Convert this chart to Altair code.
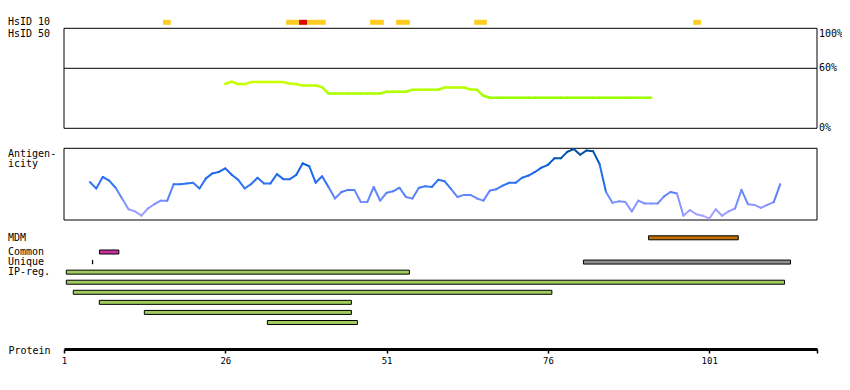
import altair as alt
import pandas as pd

FONT = "DejaVu Sans Mono"

# ---------------- data ----------------
axis_start = 1
axis_end = 117.7
tick_values = [1, 26, 51, 76, 101]

# HsID 10 track (residue spans)
hsid10_start = [16.35, 35.42, 37.43, 38.67, 48.44, 52.47, 64.57, 98.52]
hsid10_end = [17.54, 37.43, 38.67, 41.57, 50.57, 54.60, 66.53, 99.71]
hsid10_color = ["#ffcc22", "#ffcc22", "#dd0000", "#ffcc22", "#ffcc22", "#ffcc22", "#ffcc22", "#ffcc22"]

# HsID 50 identity (%)
hsid50_residue = list(range(26, 93))
hsid50_percent = [
    44.5, 46.5, 44.2, 44.2, 46.2, 46.2, 46.2, 46.2, 46.2, 46.2,   # 26-35
    44.5, 44.2, 42.8, 42.8, 42.8, 41.2, 34.8, 34.8, 34.8, 34.8,   # 36-45
    34.8, 34.8, 34.8, 34.8, 34.8, 36.5, 36.5, 36.5, 36.5, 38.5,   # 46-55
    38.5, 38.5, 38.5, 38.5, 40.8, 40.8, 40.8, 40.8, 38.8, 38.5,   # 56-65
    32.5, 30.5, 30.5, 30.5, 30.5, 30.5, 30.5, 30.5, 30.5, 30.5,   # 66-75
    30.5, 30.5, 30.5, 30.5, 30.5, 30.5, 30.5, 30.5, 30.5, 30.5,   # 76-85
    30.5, 30.5, 30.5, 30.5, 30.5, 30.5, 30.5,                     # 86-92
]

# Antigenicity (relative, 0-1)
antig_residue = list(range(5, 113))
antig_value = [
    0.53, 0.44, 0.60, 0.55, 0.45, 0.30, 0.15, 0.12, 0.06, 0.16,   # 5-14
    0.22, 0.27, 0.27, 0.50, 0.50, 0.51, 0.52, 0.44, 0.58, 0.65,   # 15-24
    0.67, 0.72, 0.63, 0.56, 0.44, 0.50, 0.59, 0.51, 0.51, 0.64,   # 25-34
    0.57, 0.57, 0.63, 0.79, 0.75, 0.52, 0.61, 0.46, 0.30, 0.39,   # 35-44
    0.42, 0.42, 0.25, 0.25, 0.46, 0.27, 0.38, 0.40, 0.45, 0.32,   # 45-54
    0.30, 0.45, 0.47, 0.46, 0.56, 0.54, 0.43, 0.32, 0.35, 0.35,   # 55-64
    0.30, 0.27, 0.41, 0.43, 0.48, 0.52, 0.52, 0.59, 0.62, 0.67,   # 65-74
    0.73, 0.77, 0.86, 0.86, 0.95, 0.99, 0.91, 0.97, 0.96, 0.78,   # 75-84
    0.39, 0.24, 0.26, 0.25, 0.12, 0.27, 0.23, 0.23, 0.23, 0.33,   # 85-94
    0.39, 0.37, 0.06, 0.14, 0.08, 0.06, 0.02, 0.15, 0.06, 0.12,   # 95-104
    0.16, 0.42, 0.22, 0.21, 0.17, 0.21, 0.25, 0.50,               # 105-112
]

# Feature tracks
feat_track = ["MDM", "Common", "Unique", "Unique", "IP-reg.", "IP-reg.", "IP-reg.", "IP-reg.", "IP-reg.", "IP-reg."]
feat_lane = [1, 2, 3, 3, 4, 5, 6, 7, 8, 9]
feat_start = [91.6, 6.5, 5.4, 81.5, 1.36, 1.36, 2.44, 6.47, 13.45, 32.52]
feat_end = [105.5, 9.5, 5.45, 113.6, 54.53, 112.67, 76.61, 45.54, 45.54, 46.47]
feat_color = ["#bf7000", "#c8319b", "#000000", "#909090",
              "#9fcb5f", "#9fcb5f", "#9fcb5f", "#9fcb5f", "#9fcb5f", "#9fcb5f"]

lane_labels = ["HsID 10", "MDM", "Common", "Unique", "IP-reg."]
lane_label_lane = [0, 1, 2, 3, 4]

# ---------------- tables ----------------
hsid10_df = pd.DataFrame({"start": hsid10_start, "end": hsid10_end, "color": hsid10_color,
                          "lane": [0] * len(hsid10_start)})

g = pd.DataFrame({"r": hsid50_residue, "p": hsid50_percent})
g["r2"] = g["r"].shift(-1)
g["p2"] = g["p"].shift(-1)
g = g.dropna()
g["pm"] = (g["p"] + g["p2"]) / 2

a = pd.DataFrame({"r": antig_residue, "v": antig_value})
a["r2"] = a["r"].shift(-1)
a["v2"] = a["v"].shift(-1)
a = a.dropna()
a["vm"] = (a["v"] + a["v2"]) / 2

feat_df = pd.DataFrame({"track": feat_track, "lane": feat_lane, "start": feat_start,
                        "end": feat_end, "color": feat_color})
lane_lab_df = pd.DataFrame({"label": lane_labels, "lane": lane_label_lane})

box_pct_df = pd.DataFrame({"x0": [axis_start], "x1": [axis_end], "lo": [0], "hi": [100]})
line60_df = pd.DataFrame({"x0": [axis_start], "x1": [axis_end], "p": [60]})
box_ag_df = pd.DataFrame({"x0": [axis_start], "x1": [axis_end], "lo": [0.0], "hi": [1.0]})

pct_top_df = pd.DataFrame({"label": ["100%"], "p": [100]})
pct_mid_df = pd.DataFrame({"label": ["60%", "0%"], "p": [60, 0]})
hsid50_lab_df = pd.DataFrame({"label": ["HsID 50"], "p": [100]})
ag_lab_df = pd.DataFrame({"label": ["Antigen-\nicity"], "v": [1.0]})

# ---------------- scales ----------------
x_axis = alt.Axis(
    values=tick_values + [axis_end],
    labelExpr="datum.value > 110 ? '' : datum.label",
    title="Protein", titleX=-56, titleY=1, titleAlign="left", titleBaseline="middle",
    titleAngle=0, titleFont=FONT, titleFontSize=10, titleFontWeight="normal", titleColor="black",
    domainColor="black", domainWidth=3, tickColor="black", tickWidth=1.5, tickSize=4,
    labelPadding=3, labelFont=FONT, labelFontSize=9, labelColor="black",
    labelFlush=False, labelOverlap=False, grid=False,
)
x_scale = alt.Scale(domain=[axis_start, axis_end], nice=False, zero=False, padding=0)


def X(field):
    return alt.X(f"{field}:Q", scale=x_scale, axis=x_axis)


pct_scale = alt.Scale(domain=[0, 100], range=[118.3, 18.3], nice=False, zero=False, padding=0)
ag_scale = alt.Scale(domain=[0, 1], range=[210, 138.3], nice=False, zero=False, padding=0)
lane_scale = alt.Scale(domain=[0, 1, 2, 9], range=[12.3, 227.8, 242, 312.5],
                       nice=False, zero=False, padding=0)

# ---------------- layers ----------------
hsid10 = alt.Chart(hsid10_df).mark_bar(size=5).encode(
    x=X("start"), x2="end",
    y=alt.Y("lane:Q", scale=lane_scale, axis=None),
    color=alt.Color("color:N", scale=None),
)

box_pct = alt.Chart(box_pct_df).mark_rect(fillOpacity=0, stroke="black", strokeWidth=1).encode(
    x=X("x0"), x2="x1", y=alt.Y("lo:Q", scale=pct_scale, axis=None), y2="hi"
)
line60 = alt.Chart(line60_df).mark_rule(color="black", strokeWidth=1).encode(
    x=X("x0"), x2="x1", y=alt.Y("p:Q", scale=pct_scale, axis=None)
)
green = alt.Chart(g).mark_rule(strokeWidth=2.5, strokeCap="round").encode(
    x=X("r"), x2="r2",
    y=alt.Y("p:Q", scale=pct_scale, axis=None), y2="p2",
    color=alt.Color("pm:Q", scale=alt.Scale(domain=[30, 47], range=["#99ff00", "#ccff00"]), legend=None),
)

box_ag = alt.Chart(box_ag_df).mark_rect(fillOpacity=0, stroke="black", strokeWidth=1).encode(
    x=X("x0"), x2="x1", y=alt.Y("lo:Q", scale=ag_scale, axis=None), y2="hi"
)
blue = alt.Chart(a).mark_rule(strokeWidth=2, strokeCap="round").encode(
    x=X("r"), x2="r2",
    y=alt.Y("v:Q", scale=ag_scale, axis=None), y2="v2",
    color=alt.Color("vm:Q", scale=alt.Scale(
        domain=[0, 0.25, 0.5, 0.75, 1.0],
        range=["#b3a6ff", "#7a92ff", "#2f74f5", "#0f60e0", "#004a8f"]), legend=None),
)

feats = alt.Chart(feat_df).mark_bar(size=4, stroke="black", strokeWidth=1).encode(
    x=X("start"), x2="end",
    y=alt.Y("lane:Q", scale=lane_scale, axis=None),
    color=alt.Color("color:N", scale=None),
)

lane_text = alt.Chart(lane_lab_df).mark_text(
    align="left", baseline="middle", font=FONT, fontSize=10, color="black"
).encode(x=alt.value(-56), y=alt.Y("lane:Q", scale=lane_scale, axis=None), text="label:N")

hsid50_text = alt.Chart(hsid50_lab_df).mark_text(
    align="left", baseline="top", font=FONT, fontSize=10, color="black", dy=1
).encode(x=alt.value(-56), y=alt.Y("p:Q", scale=pct_scale, axis=None), text="label:N")

pct_top_text = alt.Chart(pct_top_df).mark_text(
    align="left", baseline="top", font=FONT, fontSize=10, color="black", dy=1
).encode(x=alt.value(755), y=alt.Y("p:Q", scale=pct_scale, axis=None), text="label:N")

pct_mid_text = alt.Chart(pct_mid_df).mark_text(
    align="left", baseline="middle", font=FONT, fontSize=10, color="black"
).encode(x=alt.value(755), y=alt.Y("p:Q", scale=pct_scale, axis=None), text="label:N")

ag_text = alt.Chart(ag_lab_df).mark_text(
    align="left", baseline="top", font=FONT, fontSize=10, color="black", dy=1,
    lineBreak="\n", lineHeight=10
).encode(x=alt.value(-56), y=alt.Y("v:Q", scale=ag_scale, axis=None), text="label:N")

chart = alt.layer(
    hsid10, box_pct, line60, green, box_ag, blue, feats,
    lane_text, hsid50_text, pct_top_text, pct_mid_text, ag_text,
).resolve_scale(
    y="independent", color="independent"
).properties(
    width=753, height=339,
    autosize=alt.AutoSizeParams(type="none"),
    padding={"left": 56, "top": 2, "right": 25, "bottom": 20},
).configure_view(stroke=None)

chart.save("out.html", embed_options={"renderer": "svg", "actions": False})
